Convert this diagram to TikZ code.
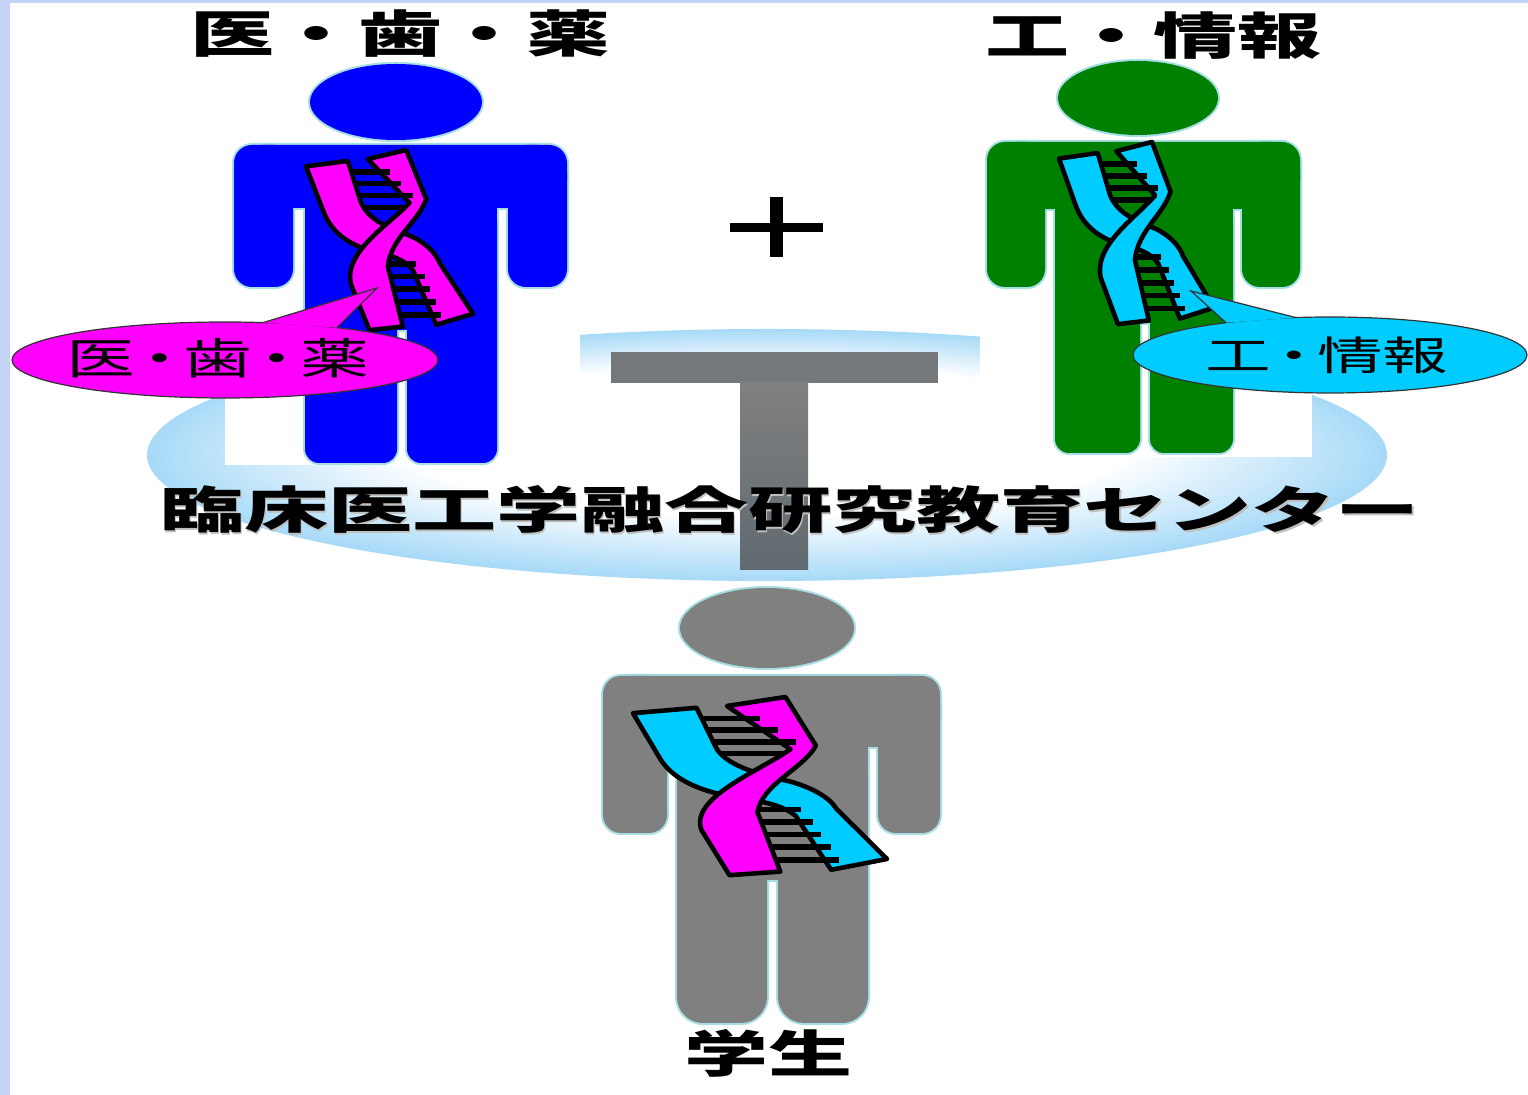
\documentclass[tikz,border=0pt]{standalone}
\usepackage{fontspec}
\usepackage{graphicx}
\newfontfamily\jp{Noto Sans CJK JP}

\definecolor{bluefig}{RGB}{0,0,255}
\definecolor{greenfig}{RGB}{0,128,0}
\definecolor{grayfig}{RGB}{128,128,128}
\definecolor{dnamag}{RGB}{255,0,255}
\definecolor{dnacyan}{RGB}{0,204,255}
\definecolor{haloc}{RGB}{165,222,228}
\definecolor{glowrim}{RGB}{168,218,248}
\definecolor{edgestrip}{RGB}{196,210,246}
\definecolor{tbar}{RGB}{117,120,122}
\definecolor{ttop}{RGB}{128,128,128}
\definecolor{tbottom}{RGB}{96,106,112}

% tight middle dot for the bubble captions
\newcommand\tightdot{\kern-0.15em・\kern-0.15em}

% one pictogram person: head + shoulders, arms, torso and two legs
\newcommand\human[3]{%
  \foreach \hx/\hy/\hrx/\hry/\pL/\aL/\tL/\tR/\aR/\pR/\pT/\gT/\aB/\lgL/\lgR/\lgT/\lB in #3{%
    \path[#1] (\hx,\hy) ellipse [x radius=\hrx, y radius=\hry];
    \path[#1,rounded corners=14pt] (\pL,\pT) rectangle (\pR,\gT);
    \path[#1,rounded corners=9pt] (\pL,\pT) rectangle (\aL,\aB);
    \path[#1,rounded corners=9pt] (\aR,\pT) rectangle (\pR,\aB);
    \path[#1] (\tL,\gT-8) rectangle (\tR,\lgT);
    \path[#1,rounded corners=#2] (\tL,\gT) rectangle (\lgL,\lB);
    \path[#1,rounded corners=#2] (\lgR,\gT) rectangle (\tR,\lB);
  }}

% double helix in a box: origin x, origin y, width, height, back strand, front strand
\newcommand\helix[6]{%
  \begin{scope}[shift={(#1,#2)}, xscale=#3, yscale=#4]
    \draw[strand, fill=#5] (0.0,0.09) -- (0.25,0.06) -- (0.33,0.29)
      .. controls (0.38,0.39) and (0.50,0.43) .. (0.62,0.47)
      .. controls (0.72,0.51) and (0.78,0.57) .. (0.80,0.62)
      -- (1.0,0.90) -- (0.78,0.96) -- (0.64,0.66)
      .. controls (0.60,0.61) and (0.52,0.58) .. (0.42,0.56)
      .. controls (0.27,0.53) and (0.16,0.46) .. (0.11,0.35) -- cycle;
    \draw[strand, fill=#6] (0.37,0.05) -- (0.60,0.0) -- (0.72,0.27)
      .. controls (0.67,0.40) and (0.51,0.48) .. (0.49,0.64)
      -- (0.58,0.97) -- (0.38,0.99) -- (0.27,0.74)
      .. controls (0.22,0.56) and (0.50,0.41) .. (0.62,0.29) -- cycle;
    \foreach \yy/\xa/\xb in {0.12/0.274/0.50, 0.185/0.294/0.57,
        0.25/0.316/0.64, 0.315/0.34/0.60,
        0.625/0.492/0.66, 0.695/0.505/0.71, 0.765/0.525/0.74,
        0.835/0.544/0.78, 0.905/0.563/0.81}
      \draw[rung] (\xa,\yy) -- (\xb,\yy);
  \end{scope}}

\tikzset{
  strand/.style={draw=black, line width=2.3pt, line join=round},
  rung/.style={draw=black, line width=2.8pt},
  halo/.style={draw=haloc, fill=haloc, line width=2pt},
  bubbleline/.style={draw=black!80, line width=0.6pt},
  boldlabel/.style={inner sep=0pt, font=\jp\bfseries\fontsize{25pt}{25pt}\selectfont},
  bubbletext/.style={inner sep=0pt, font=\jp\fontsize{#1}{#1}\selectfont},
}

\begin{document}
\begin{tikzpicture}[x=0.5pt, y=-0.5pt]
  \useasboundingbox (0,0) rectangle (1528,1095);
  \fill[white] (0,0) rectangle (1528,1095);
  \fill[edgestrip] (0,0) rectangle (10,1095);
  \fill[edgestrip] (0,0) rectangle (1528,3);

  % glowing disc of the centre: light blue rim fading to a white middle
  \foreach \i in {0,...,30}{
    \pgfmathsetmacro\sc{1-0.40*\i/30}
    \pgfmathsetmacro\pc{100-100*\i/30}
    \fill[glowrim!\pc!white] (767,455-14*\i/30)
      ellipse [x radius=620*\sc, y radius=126*\sc];
  }

  % white backgrounds behind the two upper figures
  \fill[white] (225,120) rectangle (580,465);
  \fill[white] (980,120) rectangle (1312,457);

  % the letter T
  \fill[tbar] (611,352) rectangle (938,383);
  \shade[top color=ttop, bottom color=tbottom] (740,382) rectangle (808,570);

  % plus sign
  \draw[line width=4.5pt] (730,228) -- (823,228);
  \draw[line width=6.5pt] (776.5,197) -- (776.5,257);

  % figures
  \def\bluepar{396/102/86/38/234/293/305/497/508/567/145/208/287/397/407/330/463}
  \def\greenpar{1138/98/80/37/987/1045/1055/1233/1242/1300/142/209/287/1140/1150/323/453}
  \def\graypar{767/628/87/40/603/667/677/868/878/940/676/747/833/767/778/880/1023}
  \human{halo}{7pt}{\bluepar}
  \human{fill=bluefig}{7pt}{\bluepar}
  \human{halo}{7pt}{\greenpar}
  \human{fill=greenfig}{7pt}{\greenpar}
  \human{halo}{13pt}{\graypar}
  \human{fill=grayfig}{13pt}{\graypar}

  \helix{306}{150}{167}{182}{dnamag}{dnamag}
  \helix{1059}{142}{155}{184}{dnacyan}{dnacyan}
  \helix{633}{697}{254}{180}{dnacyan}{dnamag}

  % speech bubbles
  \draw[bubbleline, fill=dnamag] (225,360) ellipse [x radius=213, y radius=38];
  \draw[bubbleline, fill=dnamag] (263,322.6) -- (377,288) -- (337,327.7);
  \draw[bubbleline, fill=dnacyan] (1330,355) ellipse [x radius=197, y radius=38];
  \draw[bubbleline, fill=dnacyan] (1226,322.7) -- (1191,291) -- (1296,317.6);

  \node[bubbletext=21.5pt] (medbubble) at (218,358)
    {\scalebox{1.6}[1]{医\tightdot 歯\tightdot 薬}};
  \node[bubbletext=20pt] (engbubble) at (1327,355)
    {\scalebox{1.64}[1]{工\tightdot 情報}};

  % headings
  \node[boldlabel] (medhead) at (400,34) {\scalebox{1.68}[1]{医・歯・薬}};
  \node[boldlabel] (enghead) at (1153,36) {\scalebox{1.68}[1]{工・情報}};
  \node[boldlabel] (student) at (768,1053) {\scalebox{1.68}[1]{学生}};
  \node[boldlabel, text=black!25] (centreshadow) at (791.5,511.5)
    {\scalebox{1.68}[1]{臨床医工学融合研究教育センター}};
  \node[boldlabel] (centre) at (790,510)
    {\scalebox{1.68}[1]{臨床医工学融合研究教育センター}};
\end{tikzpicture}
\end{document}
